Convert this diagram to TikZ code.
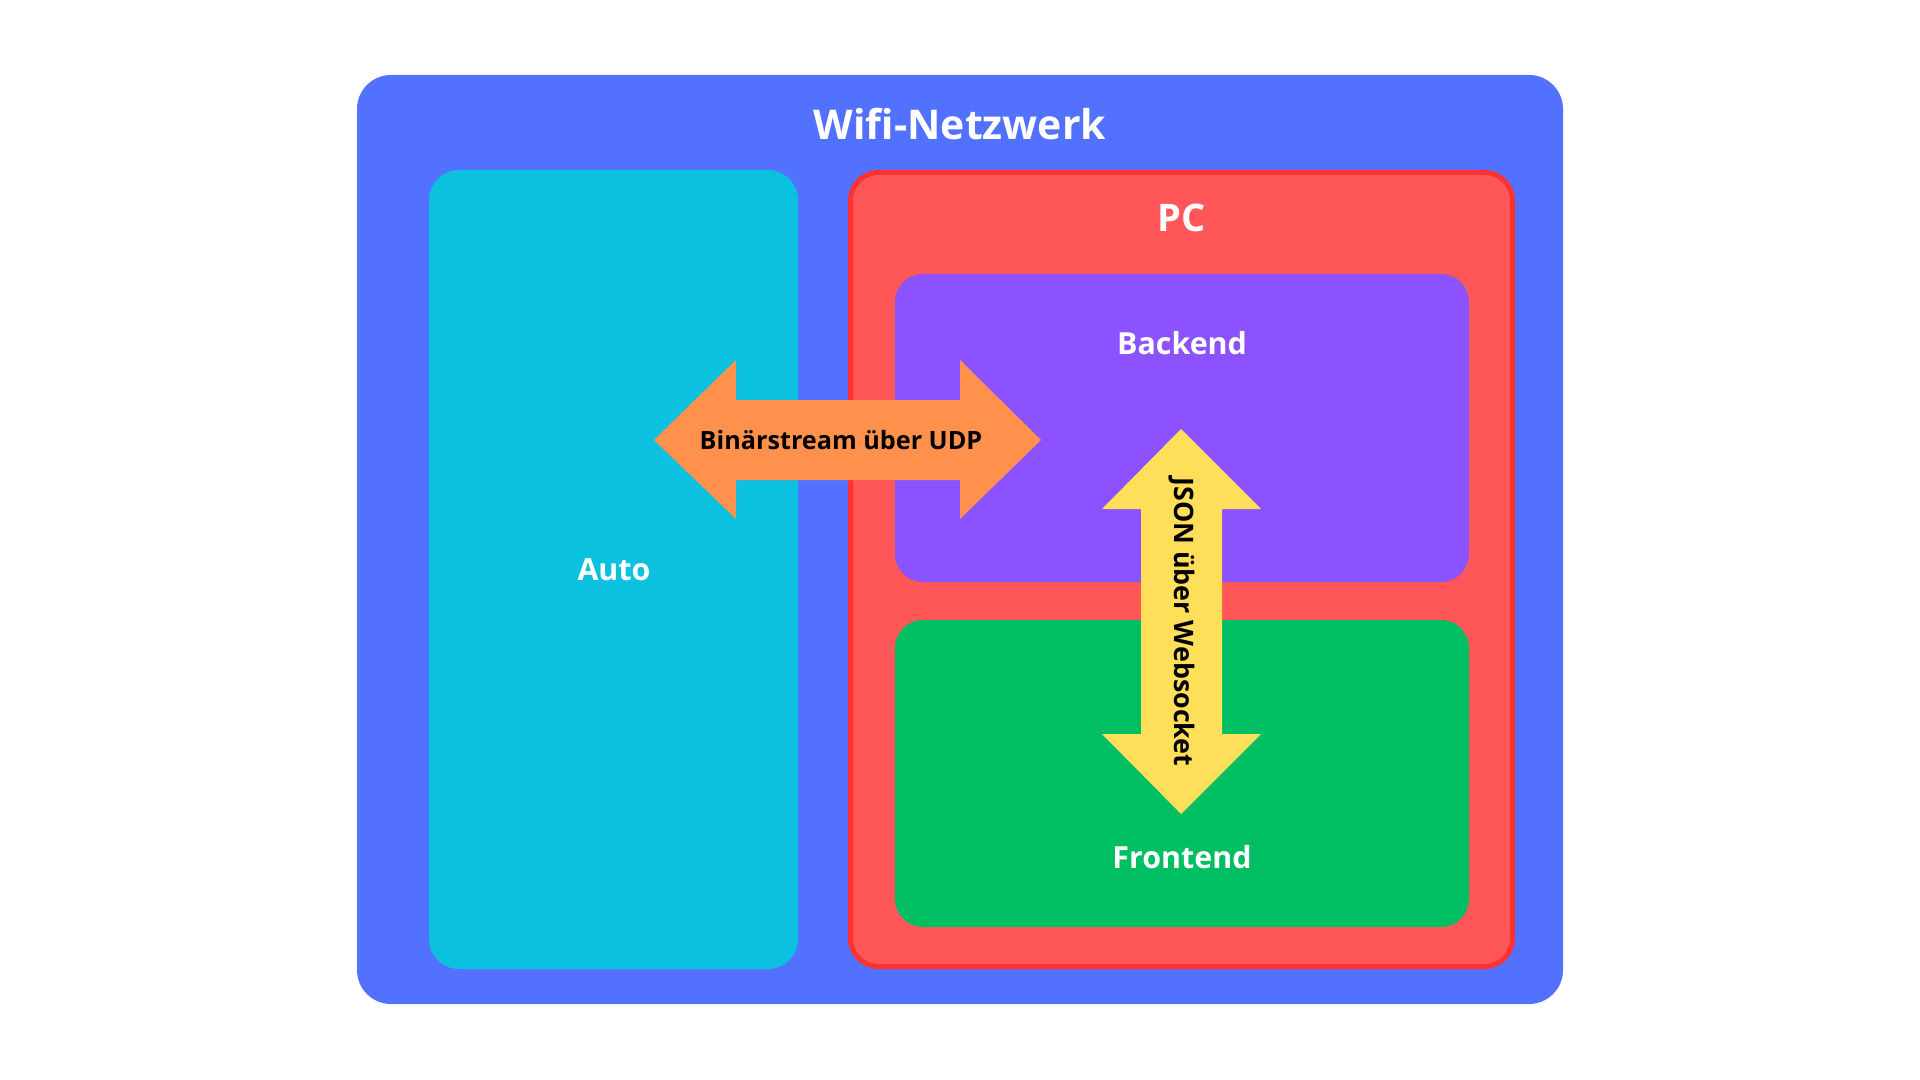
\documentclass[tikz,border=0pt]{standalone}
\usepackage{fontspec}
\setmainfont{Open Sans}
\usetikzlibrary{positioning}

\definecolor{wifiblue}{HTML}{5271FF}
\definecolor{autocyan}{HTML}{0CC0DF}
\definecolor{pcred}{HTML}{FF5757}
\definecolor{pcborder}{HTML}{FF3131}
\definecolor{backpurple}{HTML}{8C52FF}
\definecolor{frontgreen}{HTML}{00BF63}
\definecolor{udporange}{HTML}{FF914D}
\definecolor{wsyellow}{HTML}{FFDE59}

\begin{document}
\begin{tikzpicture}[
  x=0.5pt, y=-0.5pt,
  title/.style={font=\bfseries\fontsize{20.5}{25}\selectfont, text=white},
  label/.style={font=\bfseries\fontsize{15.2}{19}\selectfont, text=white},
  arrowtext/.style={font=\bfseries\fontsize{13.4}{16}\selectfont, text=black},
]
\useasboundingbox (0,0) rectangle (1920,1080);
\fill[white] (0,0) rectangle (1920,1080);

% Wifi network
\fill[wifiblue, rounded corners=17pt] (357,75) rectangle (1563,1004);
\node[title] (wifi) at (960,124) {Wifi-Netzwerk};

% Auto
\fill[autocyan, rounded corners=15pt] (429,170) rectangle (798,969);
\node[label] (auto) at (614,570) {Auto};

% PC
\draw[pcborder, fill=pcred, line width=2.5pt, rounded corners=14pt]
  (850.5,172.5) rectangle (1512.5,966.5);
\node[label, font=\bfseries\fontsize{19}{23}\selectfont] (pc) at (1182,218) {PC};

% Backend
\fill[backpurple, rounded corners=14pt] (895,274) rectangle (1469,582);
\node[label] (backend) at (1182,343) {Backend};

% Frontend
\fill[frontgreen, rounded corners=14pt] (895,620) rectangle (1469,927);
\node[label] (frontend) at (1182,857) {Frontend};

% UDP arrow
\coordinate (udp) at (848,440);
\fill[udporange] (654,440) -- (736,360) -- (736,400) -- (960,400) -- (960,360)
  -- (1041,440) -- (960,519) -- (960,480) -- (736,480) -- (736,519) -- cycle;
\node[arrowtext, font=\bfseries\fontsize{12.6}{15}\selectfont] (udplabel) at (841,440) {Binärstream über UDP};

% Websocket arrow
\coordinate (ws) at (1181,621);
\fill[wsyellow] (1181,429) -- (1261,509) -- (1222,509) -- (1222,734) -- (1261,734)
  -- (1181,814) -- (1102,734) -- (1141,734) -- (1141,509) -- (1102,509) -- cycle;
\node[arrowtext, rotate=-90] (wslabel) at (1182,622) {JSON über Websocket};

\end{tikzpicture}
\end{document}
